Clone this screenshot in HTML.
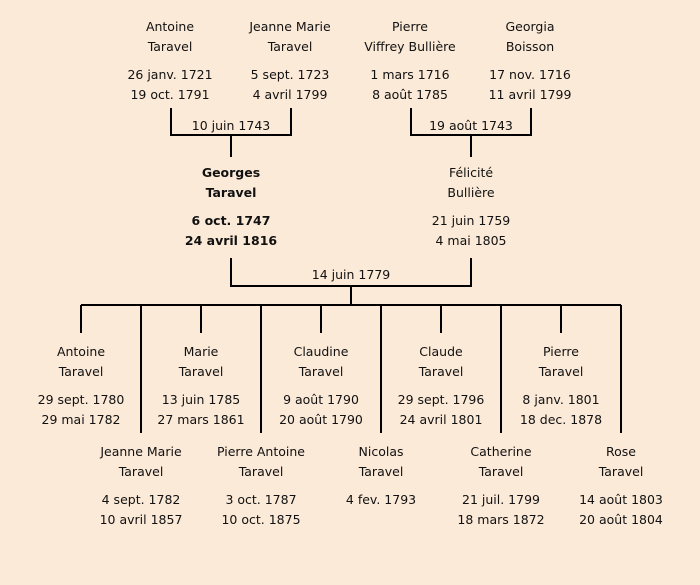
<!DOCTYPE html>
<html><head><meta charset="utf-8"><style>
body{margin:0;width:700px;height:585px;background:#fcead8;position:relative;overflow:hidden;font-family:"DejaVu Sans","Liberation Sans",sans-serif;font-size:12.5px;color:#111}
.t{position:absolute;width:140px;text-align:center;line-height:20px;white-space:nowrap}
.t .g{height:8px}
.b{font-weight:bold}
svg{position:absolute;left:0;top:0}
</style></head><body>
<svg width="700" height="585"><g stroke="#000" stroke-width="2" fill="none">
<path d="M171 108V135H291V108M231 135V157"/>
<path d="M411 108V135H531V108M471 135V157"/>
<path d="M231 258V286H471V258M351 286V305"/>
<path d="M81 305H621"/>
<path d="M81 305V333M201 305V333M321 305V333M441 305V333M561 305V333"/>
<path d="M141 305V433M261 305V433M381 305V433M501 305V433M621 305V433"/>
</g>
<g font-family="DejaVu Sans,Liberation Sans,sans-serif" font-size="12.5" text-anchor="middle" fill="#111">
<text x="231" y="130">10 juin 1743</text>
<text x="471" y="130">19 août 1743</text>
<text x="351" y="279">14 juin 1779</text>
</g></svg>
<div class="t" style="left:100px;top:17px">Antoine<br>Taravel<div class="g"></div>26 janv. 1721<br>19 oct. 1791</div>
<div class="t" style="left:220px;top:17px">Jeanne Marie<br>Taravel<div class="g"></div>5 sept. 1723<br>4 avril 1799</div>
<div class="t" style="left:340px;top:17px">Pierre<br>Viffrey Bullière<div class="g"></div>1 mars 1716<br>8 août 1785</div>
<div class="t" style="left:460px;top:17px">Georgia<br>Boisson<div class="g"></div>17 nov. 1716<br>11 avril 1799</div>
<div class="t b" style="left:161px;top:163px">Georges<br>Taravel<div class="g"></div>6 oct. 1747<br>24 avril 1816</div>
<div class="t" style="left:401px;top:163px">Félicité<br>Bullière<div class="g"></div>21 juin 1759<br>4 mai 1805</div>
<div class="t" style="left:11px;top:342px">Antoine<br>Taravel<div class="g"></div>29 sept. 1780<br>29 mai 1782</div>
<div class="t" style="left:131px;top:342px">Marie<br>Taravel<div class="g"></div>13 juin 1785<br>27 mars 1861</div>
<div class="t" style="left:251px;top:342px">Claudine<br>Taravel<div class="g"></div>9 août 1790<br>20 août 1790</div>
<div class="t" style="left:371px;top:342px">Claude<br>Taravel<div class="g"></div>29 sept. 1796<br>24 avril 1801</div>
<div class="t" style="left:491px;top:342px">Pierre<br>Taravel<div class="g"></div>8 janv. 1801<br>18 dec. 1878</div>
<div class="t" style="left:71px;top:442px">Jeanne Marie<br>Taravel<div class="g"></div>4 sept. 1782<br>10 avril 1857</div>
<div class="t" style="left:191px;top:442px">Pierre Antoine<br>Taravel<div class="g"></div>3 oct. 1787<br>10 oct. 1875</div>
<div class="t" style="left:311px;top:442px">Nicolas<br>Taravel<div class="g"></div>4 fev. 1793</div>
<div class="t" style="left:431px;top:442px">Catherine<br>Taravel<div class="g"></div>21 juil. 1799<br>18 mars 1872</div>
<div class="t" style="left:551px;top:442px">Rose<br>Taravel<div class="g"></div>14 août 1803<br>20 août 1804</div>
</body></html>
